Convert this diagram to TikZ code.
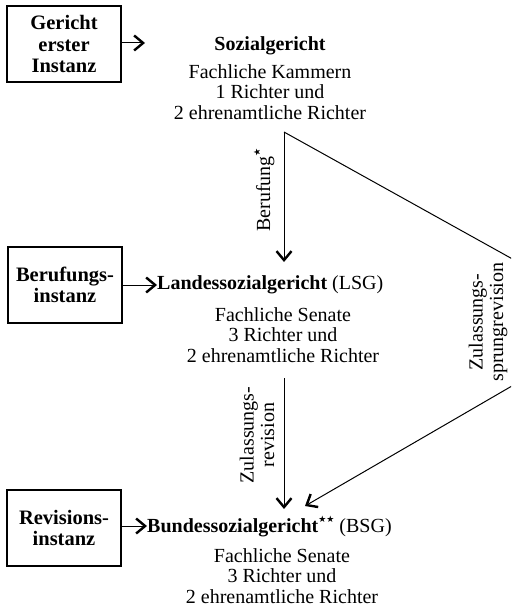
\documentclass[tikz,border=0pt]{standalone}
\usepackage{fontspec}
\setmainfont{Liberation Serif}
\newfontfamily\symfont{DejaVu Sans}
\usetikzlibrary{arrows.meta}
\newcommand{\strs}[1]{\raisebox{0.5em}{\symfont\fontsize{9}{9}\selectfont #1}}
\begin{document}
\begin{tikzpicture}[x=1pt,y=-1pt,
  every node/.style={font=\fontsize{20}{20.5}\selectfont, inner sep=0pt, align=center},
  instbox/.style={draw, line width=1.2pt, minimum width=114pt, minimum height=76pt, align=center, font=\fontsize{20.5}{21.5}\selectfont\bfseries},
  arr/.style={line width=1pt, -{Straight Barb[length=9pt,width=15pt,line width=2.4pt]}},
  lbl/.style={rotate=90, font=\fontsize{20}{20.5}\selectfont}
]
\useasboundingbox (0,0) rectangle (511,609);
\clip (0,0) rectangle (511,609);

% instance boxes
\node[instbox] (box1) at (64,44) {Gericht\\erster\\Instanz};
\node[instbox] (box2) at (65,285) {Berufungs-\\instanz};
\node[instbox] (box3) at (64,528) {Revisions-\\instanz};

% courts
\node (sg) at (270,46) {\bfseries Sozialgericht};
\node[anchor=north] (sgd) at (270,64) {Fachliche Kammern\\1 Richter und\\2 ehrenamtliche Richter};

\node[anchor=west] (lsg) at (157,285) {\textbf{Landessozialgericht} (LSG)};
\node[anchor=north] (lsgd) at (283,307) {Fachliche Senate\\3 Richter und\\2 ehrenamtliche Richter};

\node[anchor=west] (bsg) at (147,526) {\textbf{Bundessozialgericht}\strs{★★} (BSG)};
\node[anchor=north] (bsgd) at (282,548) {Fachliche Senate\\3 Richter und\\2 ehrenamtliche Richter};

% coordinates
\coordinate (t1) at (145,43);
\coordinate (top) at (284,132);
\coordinate (lsgtop) at (284,262);
\coordinate (lsgbot) at (284,378);
\coordinate (bsgtop) at (284,509);
\coordinate (corner) at (624,321);
\coordinate (bsgdiag) at (305,506);

% box arrows
\draw[arr] (box1.east |- t1) -- (t1);
\draw[arr] (box2.east) -- (lsg.west);
\draw[arr] (box3.east |- bsg.west) -- (bsg.west);

% appeal paths
\draw[arr] (top) -- (lsgtop);
\draw[arr] (lsgbot) -- (bsgtop);
\draw[arr] (top) -- (corner) -- (bsgdiag);

% path labels
\node[lbl] (ber) at (264,190) {Berufung\strs{★}};
\node[lbl] (zr) at (257,435) {Zulassungs-\\revision};
\node[lbl] (zsr) at (488,322) {Zulassungs-\\sprungrevision};
\end{tikzpicture}
\end{document}
